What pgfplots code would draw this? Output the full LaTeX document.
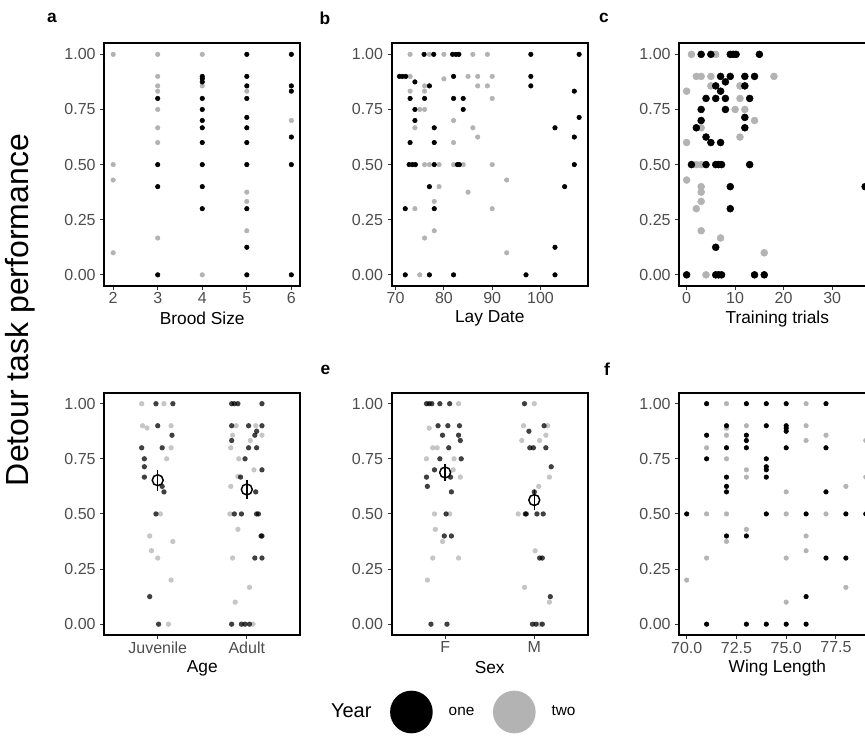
\documentclass[border=0pt]{standalone}
\usepackage{pgfplots}
\pgfplotsset{compat=1.18}
\usepackage{fontspec}
\setmainfont{Liberation Sans}
\definecolor{yrtwo}{RGB}{179,179,179}
\definecolor{ticktxt}{RGB}{77,77,77}
\definecolor{tickcol}{RGB}{51,51,51}
\pgfplotsset{
  panel/.style={
    scale only axis, width=147pt, height=181.9pt,
    ymin=-0.05, ymax=1.05,
    ytick={0,0.25,0.5,0.75,1}, yticklabels={0.00,0.25,0.50,0.75,1.00},
    tick align=outside, tick pos=left,
    major tick length=3pt,
    tick style={color=tickcol, line width=0.8pt},
    axis line style={line width=1.6pt, black},
    tick label style={font=\fontsize{12}{14}\selectfont, text=ticktxt},
    xticklabel style={yshift=1.5pt},
    xlabel style={font=\fontsize{13}{15}\selectfont, at={(axis description cs:0.5,-0.135)}, anchor=center},
  },
  one/.style={only marks, mark=*, mark size=1.7pt, color=black},
  two/.style={only marks, mark=*, mark size=1.7pt, color=yrtwo},
  onej/.style={only marks, mark=*, mark size=2.0pt, color=black, mark options={draw opacity=0, fill opacity=0.75}},
  twoj/.style={only marks, mark=*, mark size=2.0pt, color=yrtwo, mark options={draw opacity=0, fill opacity=0.75}},
  meanbar/.style={only marks, mark=o, mark size=4.1pt, line width=1.1pt, black,
    error bars/.cd, y dir=both, y explicit, error mark=none, error bar style={line width=1.1pt, black}},
}
\begin{document}
\begin{tikzpicture}
% ---------------- a: Brood Size
\begin{axis}[panel, at={(78.2pt,-32.5pt)}, anchor=north west,
  xmin=1.8, xmax=6.2, xtick={2,3,4,5,6}, xticklabels={2,3,4,5,6}, xlabel={Brood Size}]
\addplot[two] coordinates {(2,1) (2,0.5) (2,0.43) (2,0.1)
 (3,1) (3,0.9) (3,0.857) (3,0.833) (3,0.75) (3,0.667) (3,0.6) (3,0.167)
 (4,1) (4,0.857) (4,0)
 (5,0.833) (5,0.375) (5,0.333) (5,0.2)
 (6,0.7)};
\addplot[one] coordinates {(3,0.8) (3,0.5) (3,0.4) (3,0)
 (4,0.9) (4,0.89) (4,0.875) (4,0.8) (4,0.75) (4,0.7) (4,0.667) (4,0.6) (4,0.5) (4,0.4) (4,0.3)
 (5,1) (5,0.9) (5,0.857) (5,0.8) (5,0.714) (5,0.667) (5,0.6) (5,0.5) (5,0.3) (5,0.125) (5,0)
 (6,1) (6,0.857) (6,0.833) (6,0.625) (6,0.5) (6,0)};
\end{axis}
% ---------------- b: Lay Date
\begin{axis}[panel, at={(293.8pt,-32.5pt)}, anchor=north west,
  xmin=69.2, xmax=109.78, xtick={70,80,90,100}, xticklabels={70,80,90,100}, xlabel={Lay Date}]
\addplot[two] coordinates {(73,1) (77,1) (80,1) (86,1) (89,1)
 (73,0.9) (85,0.9) (87,0.9) (90,0.9) (80,0.889)
 (76,0.857) (87,0.857) (89,0.857) (73,0.833) (76,0.833) (90,0.8)
 (75,0.75) (76,0.75) (82,0.7) (74,0.667) (86,0.667) (87,0.625) (82,0.6)
 (76,0.5) (77,0.5) (79,0.5) (82,0.5) (84,0.5) (90,0.5)
 (93,0.43) (79,0.4) (85,0.375) (78,0.333) (74,0.3) (90,0.3) (78,0.2) (76,0.167) (93,0.1) (75,0)};
\addplot[one] coordinates {(75.9,1) (77.9,1) (81.8,1) (82.5,1) (83.1,1) (98,1) (108,1)
 (70.8,0.9) (71.4,0.9) (72.1,0.9) (82,0.9) (98,0.9)
 (74,0.875) (77,0.857) (98,0.857) (107,0.833)
 (73,0.8) (76,0.8) (82,0.8) (84,0.8) (74,0.75) (84,0.75) (108,0.714) (74,0.7)
 (78,0.667) (103,0.667) (107,0.625) (73,0.6) (78,0.6)
 (72.8,0.5) (73.5,0.5) (74.1,0.5) (78,0.5) (82.8,0.5) (83.2,0.5) (107,0.5)
 (77,0.4) (105,0.4) (72,0.3) (78,0.3) (103,0.125)
 (72,0) (77,0) (82,0) (97,0) (103,0)};
\end{axis}
% ---------------- c: Training trials
\begin{axis}[panel, at={(509.5pt,-32.5pt)}, anchor=north west,
  xmin=-1.5, xmax=38.9, xtick={0,10,20,30}, xticklabels={0,10,20,30}, xlabel={Training trials},
  one/.append style={mark size=2.6pt}, two/.append style={mark size=2.6pt}]
\addplot[two] coordinates {(1,1) (6,1) (2,0.9) (3,0.9) (5,0.9) (18,0.9)
 (5,0.857) (11,0.857) (0,0.833) (11,0.8) (10,0.75) (12,0.75) (14,0.7)
 (3,0.667) (11,0.625) (0,0.6) (2,0.5) (3,0.5) (0,0.43)
 (3,0.4) (3,0.375) (3,0.333) (2,0.3) (3,0.2) (7,0.167) (16,0.1) (4,0)};
\addplot[one] coordinates {(3,1) (5,1) (9,1) (9.6,1) (10.2,1) (15,1)
 (7,0.9) (9,0.9) (12,0.9) (14,0.9) (8,0.875) (6,0.857) (12,0.857) (7,0.833)
 (4,0.8) (6,0.8) (8,0.8) (13,0.8) (3,0.75) (8,0.75) (12,0.714) (3,0.7)
 (2,0.667) (12,0.667) (4,0.625) (5,0.6) (7,0.6)
 (1,0.5) (4,0.5) (6,0.5) (6.6,0.5) (7.2,0.5) (13,0.5)
 (9,0.4) (36.8,0.4) (9,0.3) (6,0.125)
 (0,0) (6,0) (6.6,0) (7.2,0) (14,0) (16,0)};
\end{axis}
% ---------------- d: Age
\begin{axis}[panel, at={(78.2pt,-294.5pt)}, anchor=north west,
  xmin=0.4, xmax=2.6, xtick={1,2}, xticklabels={Juvenile,Adult}, xlabel={Age}]
\addplot[twoj] coordinates {(0.82,1) (1.07,1) (0.83,0.9) (0.88,0.89) (1.15,0.9) (1.15,0.8) (1.10,0.75)
 (1.03,0.5) (0.91,0.4) (1.17,0.375) (0.93,0.333) (1.0,0.3) (1.15,0.2) (1.12,0)
 (1.88,0.9) (2.10,0.9) (1.84,0.857) (2.17,0.857) (2.04,0.833) (1.82,0.8) (1.91,0.75) (2.08,0.7)
 (1.90,0.67) (1.82,0.625) (1.81,0.5) (1.9,0.43) (1.84,0.3) (2.03,0.167) (1.87,0.1) (2.07,0)};
\addplot[onej] coordinates {(0.98,1) (1.17,1) (1.0,0.9) (1.16,0.857) (0.82,0.8) (1.05,0.8) (0.85,0.75)
 (0.85,0.714) (0.85,0.667) (1.05,0.625) (1.07,0.6) (0.98,0.5) (0.91,0.125) (1.01,0)
 (1.83,1) (1.86,1) (1.9,1) (2.17,1) (1.83,0.9) (2.02,0.9) (2.17,0.9) (2.11,0.875) (2.09,0.857)
 (1.83,0.833) (2.02,0.8) (2.11,0.8) (1.98,0.75) (2.17,0.7) (1.93,0.667) (2.10,0.6)
 (1.86,0.5) (1.94,0.5) (2.11,0.5) (2.13,0.5) (2.16,0.4) (2.17,0.4) (2.09,0.3) (2.17,0.3)
 (1.83,0) (1.94,0) (1.98,0) (2.03,0)};
\addplot[meanbar] coordinates {(1,0.653) +- (0,0.047) (2,0.611) +- (0,0.045)};
\end{axis}
% ---------------- e: Sex
\begin{axis}[panel, at={(293.8pt,-294.5pt)}, anchor=north west,
  xmin=0.4, xmax=2.6, xtick={1,2}, xticklabels={F,M}, xlabel={Sex}]
\addplot[twoj] coordinates {(1.15,1) (0.82,0.889) (0.86,0.8) (0.91,0.8) (0.79,0.75) (1.10,0.75) (1.09,0.7)
 (1.17,0.667) (0.88,0.5) (1.05,0.5) (0.89,0.43) (0.97,0.375) (0.86,0.3) (1.15,0.3) (0.80,0.2)
 (2.0,1) (1.88,0.9) (2.15,0.9) (2.13,0.857) (1.86,0.833) (2.06,0.833) (2.17,0.667) (2.05,0.625)
 (1.82,0.5) (2.01,0.333) (1.89,0.167) (2.17,0.1) (2.06,0)};
\addplot[onej] coordinates {(0.79,1) (0.82,1) (0.85,1) (0.94,1) (1.05,1) (0.92,0.9) (1.03,0.9) (1.16,0.9)
 (0.97,0.857) (1.15,0.857) (1.17,0.833) (1.04,0.8) (0.94,0.75) (1.18,0.75) (0.88,0.7) (0.79,0.667)
 (1.06,0.667) (0.80,0.625) (1.07,0.6) (1.01,0.5) (0.99,0.4) (1.07,0.4) (0.84,0) (1.02,0)
 (1.89,1) (2.11,0.9) (1.94,0.875) (1.95,0.8) (1.99,0.8) (2.13,0.8) (2.19,0.714) (2.0,0.6)
 (1.90,0.5) (1.91,0.5) (2.03,0.5) (2.10,0.5) (2.06,0.3) (2.09,0.3) (2.18,0.125) (1.98,0) (2.02,0) (2.09,0)};
\addplot[meanbar] coordinates {(1,0.688) +- (0,0.04) (2,0.563) +- (0,0.047)};
\end{axis}
% ---------------- f: Wing Length
\begin{axis}[panel, at={(509.5pt,-294.5pt)}, anchor=north west,
  xmin=69.63, xmax=79.48, xtick={70,72.5,75,77.5}, xticklabels={70.0,72.5,75.0,77.5}, xlabel={Wing Length}]
\addplot[two] coordinates {(70,0.2) (71,0.8) (71,0.5) (71,0.3)
 (72,1) (72,0.889) (72,0.857) (72,0.75) (72,0.5) (72,0.375)
 (73,0.9) (73,0.7) (73,0.667) (73,0.43)
 (75,0.6) (75,0.5) (75,0.3) (75,0.1)
 (76,1) (76,0.9) (76,0.833) (76,0.4) (76,0.333)
 (77,0.857) (77,0.5) (78,0.625) (78,0.167) (79,0.833) (79,0.667)};
\addplot[one] coordinates {(70,0.5) (71,1) (71,0.857) (71,0.75) (71,0)
 (72,0.9) (72,0.8) (72,0.667) (72,0.625) (72,0.6) (72,0.4)
 (73,1) (73,0.857) (73,0.833) (73,0.8) (73,0.4) (73,0)
 (74,1) (74,0.9) (74,0.75) (74,0.714) (74,0.7) (74,0.667) (74,0.5) (74,0)
 (75,1) (75,0.9) (75,0.889) (75,0.875) (75,0.8) (75,0)
 (76,0.5) (76,0.125) (76,0) (77,1) (77,0.8) (77,0.6) (77,0.3)
 (78,0.5) (78,0.3) (79,0.5)};
\end{axis}
% ---------------- legend
\begin{axis}[hide axis, scale only axis, width=1pt, height=1pt,
  at={(236.25pt,-534pt)}, anchor=center, xmin=0, xmax=1, ymin=0, ymax=1,
  legend columns=-1,
  legend style={at={(0.5,0.5)}, anchor=west, draw=none, fill=none, inner sep=0pt, outer sep=0pt,
    nodes={inner sep=0pt}, font=\fontsize{11.5}{13}\selectfont,
    /tikz/every odd column/.append style={column sep=12pt},
    /tikz/every even column/.append style={column sep=14pt}},
  legend image code/.code={\fill[#1, draw=none] (0pt,0pt) circle (16pt);}]
\addlegendimage{empty legend}
\addlegendentry[font=\fontsize{15}{17}\selectfont]{Year}
\addlegendimage{fill=black, draw=none}
\addlegendentry{one}
\addlegendimage{fill=yrtwo, draw=none}
\addlegendentry{two}
\end{axis}
% ---------------- labels
\node[rotate=90, font=\fontsize{24}{28}\selectfont] at (15pt,-232.5pt) {Detour task performance};
\node[font=\bfseries\fontsize{13}{15}\selectfont] at (39pt,-13.5pt) {a};
\node[font=\bfseries\fontsize{13}{15}\selectfont] at (243.75pt,-13.5pt) {b};
\node[font=\bfseries\fontsize{13}{15}\selectfont] at (453pt,-13.5pt) {c};
\node[font=\bfseries\fontsize{13}{15}\selectfont] at (244pt,-277.5pt) {e};
\node[font=\bfseries\fontsize{13}{15}\selectfont] at (455.25pt,-276.75pt) {f};
\pgfresetboundingbox
\path[use as bounding box] (0pt,0pt) rectangle (648.75pt,-566.25pt);
\end{tikzpicture}
\end{document}
